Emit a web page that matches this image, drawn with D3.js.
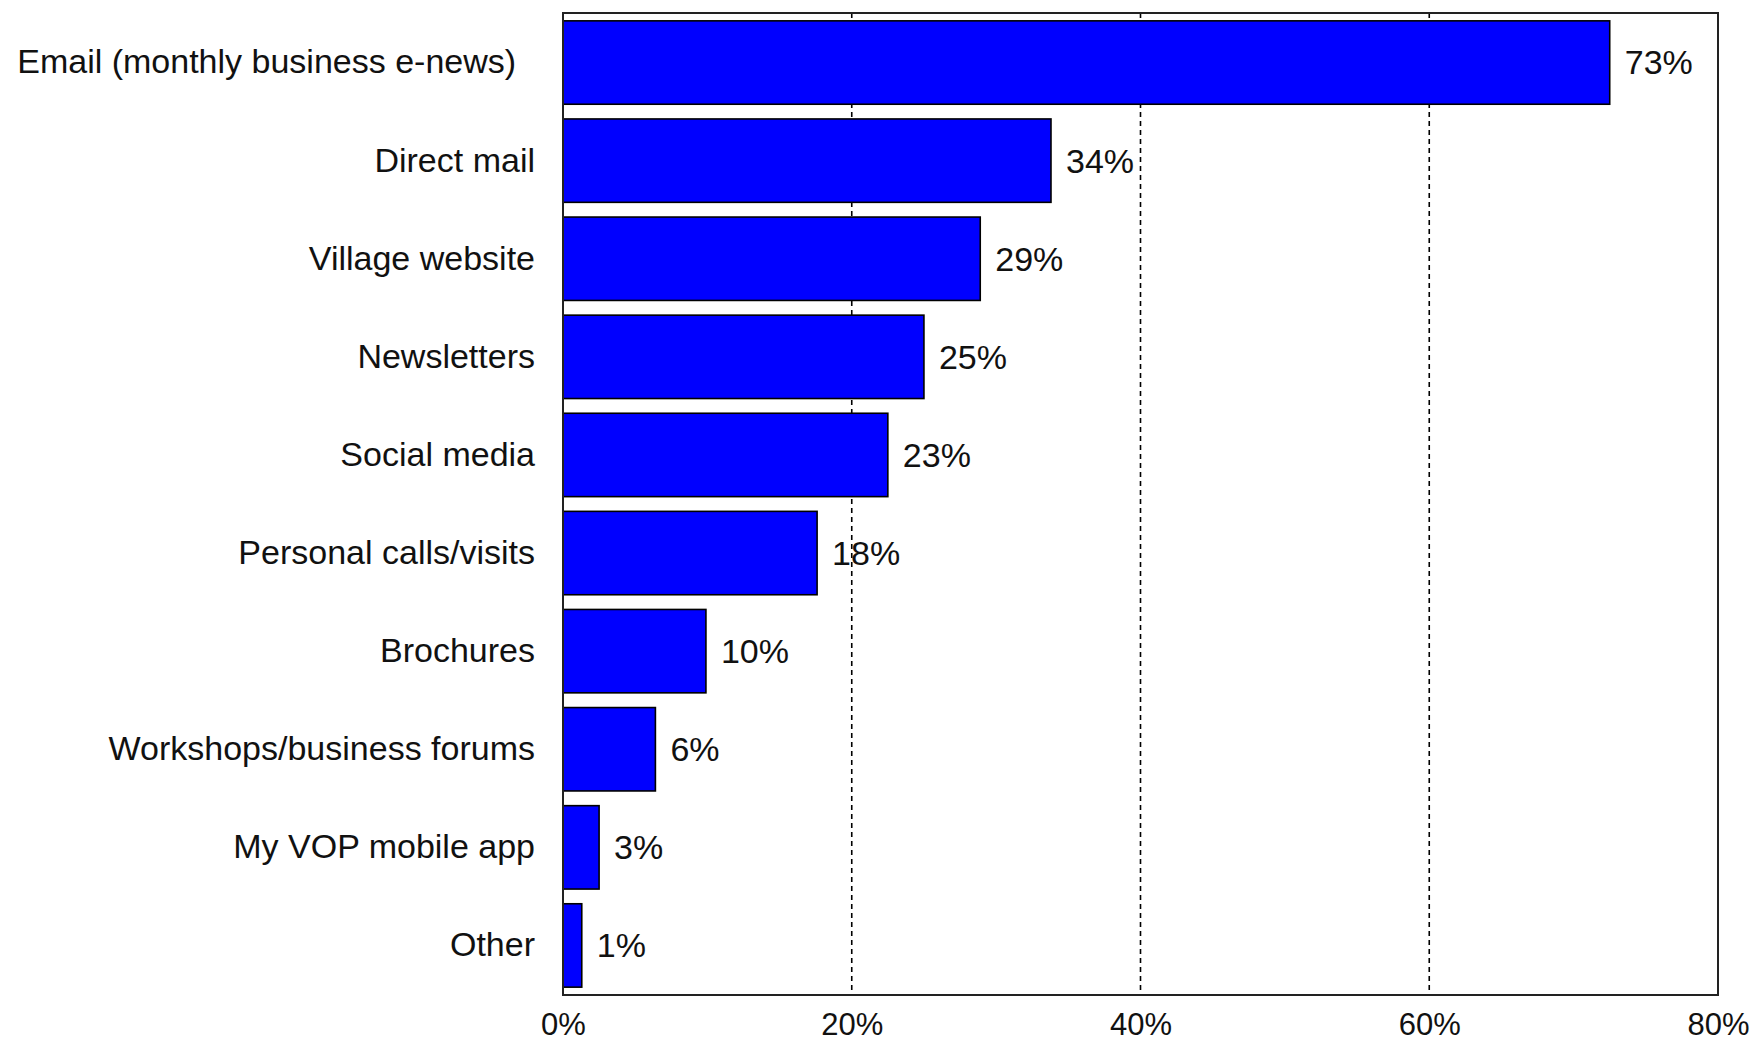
<!DOCTYPE html>
<html>
<head>
<meta charset="utf-8">
<script src="https://cdn.jsdelivr.net/npm/d3@7"></script>
<style>
  html, body { margin: 0; padding: 0; background: #fff; }
  svg { display: block; }
  text { font-family: "Liberation Sans", Arial, sans-serif; fill: #111; }
</style>
</head>
<body>
<svg id="chart" width="1750" height="1043"></svg>
<script>
const categories = [
  "Email (monthly business e-news)\u00a0\u00a0",
  "Direct mail",
  "Village website",
  "Newsletters",
  "Social media",
  "Personal calls/visits",
  "Brochures",
  "Workshops/business forums",
  "My VOP mobile app",
  "Other"
];
const values = [72.5, 33.8, 28.9, 25.0, 22.5, 17.6, 9.9, 6.4, 2.5, 1.3];
const valueLabels = ["73%", "34%", "29%", "25%", "23%", "18%", "10%", "6%", "3%", "1%"];
const tickValues = [0, 20, 40, 60, 80];
const tickLabels = ["0%", "20%", "40%", "60%", "80%"];

const margin = { left: 563, top: 13, right: 1750 - 1718, bottom: 1043 - 995 };
const W = 1750, H = 1043;
const svg = d3.select("#chart");

const x = d3.scaleLinear().domain([0, 80]).range([margin.left, W - margin.right]);
const y = d3.scaleBand().domain(categories)
  .range([margin.top, H - margin.bottom])
  .paddingInner(0.15).paddingOuter(0.08);

// grid lines (dashed)
svg.append("g").selectAll("line")
  .data(tickValues.filter(t => t > 0 && t < 80))
  .join("line")
  .attr("x1", d => x(d)).attr("x2", d => x(d))
  .attr("y1", margin.top).attr("y2", H - margin.bottom)
  .attr("stroke", "#000").attr("stroke-width", 1.6)
  .attr("stroke-dasharray", "5,4");

// bars
svg.append("g").selectAll("rect")
  .data(values)
  .join("rect")
  .attr("x", x(0))
  .attr("y", (d, i) => y(categories[i]))
  .attr("width", d => x(d) - x(0))
  .attr("height", y.bandwidth())
  .attr("fill", "#0000ff")
  .attr("stroke", "#000")
  .attr("stroke-width", 1.6);

// frame
svg.append("rect")
  .attr("x", margin.left).attr("y", margin.top)
  .attr("width", W - margin.right - margin.left)
  .attr("height", H - margin.bottom - margin.top)
  .attr("fill", "none").attr("stroke", "#222").attr("stroke-width", 2);

// value labels
svg.append("g").selectAll("text")
  .data(values)
  .join("text")
  .attr("x", d => x(d) + 15)
  .attr("y", (d, i) => y(categories[i]) + y.bandwidth() / 2)
  .attr("dy", "0.35em")
  .attr("font-size", 34)
  .text((d, i) => valueLabels[i]);

// category labels
const yAxis = d3.axisLeft(y).tickSize(0).tickPadding(28);
const gy = svg.append("g").attr("transform", `translate(${margin.left},0)`).call(yAxis);
gy.select(".domain").remove();
gy.selectAll("text").attr("font-size", 34).style("font-family", '"Liberation Sans", Arial, sans-serif').attr("fill", "#111");

// x axis
const xAxis = d3.axisBottom(x).tickValues(tickValues).tickSize(0).tickPadding(18)
  .tickFormat((d, i) => tickLabels[i]);
const gx = svg.append("g").attr("transform", `translate(0,${H - margin.bottom})`).call(xAxis);
gx.select(".domain").remove();
gx.selectAll("text").attr("font-size", 31).style("font-family", '"Liberation Sans", Arial, sans-serif').attr("fill", "#111");
</script>
</body>
</html>
